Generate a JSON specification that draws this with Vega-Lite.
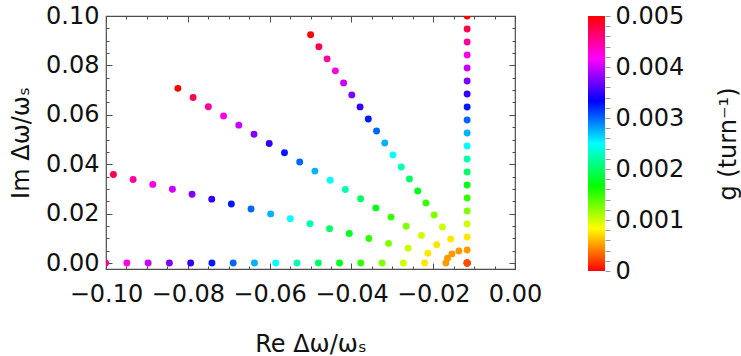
{
  "$schema": "https://vega.github.io/schema/vega-lite/v6.json",
  "background": "white",
  "padding": {"left": 8, "top": 3, "right": 0, "bottom": 0},
  "config": {
    "font": "DejaVu Sans",
    "axis": {"labelFont": "DejaVu Sans", "titleFont": "DejaVu Sans", "labelFontSize": 24, "titleFontSize": 24, "titleFontWeight": "normal", "labelColor": "#111", "titleColor": "#111", "grid": false},
    "view": {"stroke": null}
  },
  "datasets": {
    "pts": [
      {"ray":"E","g":0.00025,"re":-0.0117,"im":0},
      {"ray":"E","g":0.0005,"re":-0.0169,"im":0},
      {"ray":"E","g":0.00075,"re":-0.0221,"im":0},
      {"ray":"E","g":0.001,"re":-0.0273,"im":0},
      {"ray":"E","g":0.00125,"re":-0.0325,"im":0},
      {"ray":"E","g":0.0015,"re":-0.0377,"im":0},
      {"ray":"E","g":0.00175,"re":-0.0429,"im":0},
      {"ray":"E","g":0.002,"re":-0.0481,"im":0},
      {"ray":"E","g":0.00225,"re":-0.0533,"im":0},
      {"ray":"E","g":0.0025,"re":-0.0585,"im":0},
      {"ray":"E","g":0.00275,"re":-0.0637,"im":0},
      {"ray":"E","g":0.003,"re":-0.0689,"im":0},
      {"ray":"E","g":0.00325,"re":-0.0741,"im":0},
      {"ray":"E","g":0.0035,"re":-0.0793,"im":0},
      {"ray":"E","g":0.00375,"re":-0.0845,"im":0},
      {"ray":"E","g":0.004,"re":-0.0897,"im":0},
      {"ray":"E","g":0.00425,"re":-0.0949,"im":0},
      {"ray":"E","g":0.0045,"re":-0.1001,"im":0},
      {"ray":"E","g":0.00475,"re":-0.1053,"im":0},
      {"ray":"E","g":0.005,"re":-0.1105,"im":0},
      {"ray":"D","g":0.00025,"re":-0.0117,"im":0},
      {"ray":"D","g":0.0005,"re":-0.0165,"im":0.00199},
      {"ray":"D","g":0.00075,"re":-0.02131,"im":0.00398},
      {"ray":"D","g":0.001,"re":-0.02611,"im":0.00597},
      {"ray":"D","g":0.00125,"re":-0.03092,"im":0.00796},
      {"ray":"D","g":0.0015,"re":-0.03572,"im":0.00995},
      {"ray":"D","g":0.00175,"re":-0.04052,"im":0.01194},
      {"ray":"D","g":0.002,"re":-0.04533,"im":0.01393},
      {"ray":"D","g":0.00225,"re":-0.05013,"im":0.01592},
      {"ray":"D","g":0.0025,"re":-0.05494,"im":0.01791},
      {"ray":"D","g":0.00275,"re":-0.05974,"im":0.0199},
      {"ray":"D","g":0.003,"re":-0.06454,"im":0.02189},
      {"ray":"D","g":0.00325,"re":-0.06935,"im":0.02388},
      {"ray":"D","g":0.0035,"re":-0.07415,"im":0.02587},
      {"ray":"D","g":0.00375,"re":-0.07896,"im":0.02786},
      {"ray":"D","g":0.004,"re":-0.08376,"im":0.02985},
      {"ray":"D","g":0.00425,"re":-0.08857,"im":0.03184},
      {"ray":"D","g":0.0045,"re":-0.09337,"im":0.03383},
      {"ray":"D","g":0.00475,"re":-0.09818,"im":0.03582},
      {"ray":"D","g":0.005,"re":-0.10298,"im":0.03781},
      {"ray":"C","g":0.00025,"re":-0.0117,"im":0},
      {"ray":"C","g":0.0005,"re":-0.01542,"im":0.00372},
      {"ray":"C","g":0.00075,"re":-0.01914,"im":0.00744},
      {"ray":"C","g":0.001,"re":-0.02287,"im":0.01117},
      {"ray":"C","g":0.00125,"re":-0.02659,"im":0.01489},
      {"ray":"C","g":0.0015,"re":-0.03031,"im":0.01861},
      {"ray":"C","g":0.00175,"re":-0.03403,"im":0.02233},
      {"ray":"C","g":0.002,"re":-0.03775,"im":0.02605},
      {"ray":"C","g":0.00225,"re":-0.04148,"im":0.02978},
      {"ray":"C","g":0.0025,"re":-0.0452,"im":0.0335},
      {"ray":"C","g":0.00275,"re":-0.04892,"im":0.03722},
      {"ray":"C","g":0.003,"re":-0.05264,"im":0.04094},
      {"ray":"C","g":0.00325,"re":-0.05636,"im":0.04466},
      {"ray":"C","g":0.0035,"re":-0.06009,"im":0.04839},
      {"ray":"C","g":0.00375,"re":-0.06381,"im":0.05211},
      {"ray":"C","g":0.004,"re":-0.06753,"im":0.05583},
      {"ray":"C","g":0.00425,"re":-0.07125,"im":0.05955},
      {"ray":"C","g":0.0045,"re":-0.07497,"im":0.06327},
      {"ray":"C","g":0.00475,"re":-0.0787,"im":0.067},
      {"ray":"C","g":0.005,"re":-0.08242,"im":0.07072},
      {"ray":"B","g":0.00025,"re":-0.0117,"im":0},
      {"ray":"B","g":0.0005,"re":-0.01371,"im":0.00486},
      {"ray":"B","g":0.00075,"re":-0.01573,"im":0.00972},
      {"ray":"B","g":0.001,"re":-0.01774,"im":0.01459},
      {"ray":"B","g":0.00125,"re":-0.01976,"im":0.01945},
      {"ray":"B","g":0.0015,"re":-0.02177,"im":0.02431},
      {"ray":"B","g":0.00175,"re":-0.02378,"im":0.02917},
      {"ray":"B","g":0.002,"re":-0.0258,"im":0.03403},
      {"ray":"B","g":0.00225,"re":-0.02781,"im":0.0389},
      {"ray":"B","g":0.0025,"re":-0.02983,"im":0.04376},
      {"ray":"B","g":0.00275,"re":-0.03184,"im":0.04862},
      {"ray":"B","g":0.003,"re":-0.03385,"im":0.05348},
      {"ray":"B","g":0.00325,"re":-0.03587,"im":0.05834},
      {"ray":"B","g":0.0035,"re":-0.03788,"im":0.06321},
      {"ray":"B","g":0.00375,"re":-0.0399,"im":0.06807},
      {"ray":"B","g":0.004,"re":-0.04191,"im":0.07293},
      {"ray":"B","g":0.00425,"re":-0.04392,"im":0.07779},
      {"ray":"B","g":0.0045,"re":-0.04594,"im":0.08265},
      {"ray":"B","g":0.00475,"re":-0.04795,"im":0.08752},
      {"ray":"B","g":0.005,"re":-0.04997,"im":0.09238},
      {"ray":"A","g":0.00025,"re":-0.0117,"im":0},
      {"ray":"A","g":0.0005,"re":-0.0117,"im":0.00526},
      {"ray":"A","g":0.00075,"re":-0.0117,"im":0.01053},
      {"ray":"A","g":0.001,"re":-0.0117,"im":0.01579},
      {"ray":"A","g":0.00125,"re":-0.0117,"im":0.02105},
      {"ray":"A","g":0.0015,"re":-0.0117,"im":0.02632},
      {"ray":"A","g":0.00175,"re":-0.0117,"im":0.03158},
      {"ray":"A","g":0.002,"re":-0.0117,"im":0.03684},
      {"ray":"A","g":0.00225,"re":-0.0117,"im":0.04211},
      {"ray":"A","g":0.0025,"re":-0.0117,"im":0.04737},
      {"ray":"A","g":0.00275,"re":-0.0117,"im":0.05263},
      {"ray":"A","g":0.003,"re":-0.0117,"im":0.05789},
      {"ray":"A","g":0.00325,"re":-0.0117,"im":0.06316},
      {"ray":"A","g":0.0035,"re":-0.0117,"im":0.06842},
      {"ray":"A","g":0.00375,"re":-0.0117,"im":0.07368},
      {"ray":"A","g":0.004,"re":-0.0117,"im":0.07895},
      {"ray":"A","g":0.00425,"re":-0.0117,"im":0.08421},
      {"ray":"A","g":0.0045,"re":-0.0117,"im":0.08947},
      {"ray":"A","g":0.00475,"re":-0.0117,"im":0.09474},
      {"ray":"A","g":0.005,"re":-0.0117,"im":0.1}
    ],
    "bar": [{"g0": 0, "g1": 0.005}]
  },
  "bounds": "flush",
  "spacing": 73,
  "hconcat": [
    {
      "width": 409,
      "height": 253,
      "data": {"name": "pts"},
      "view": {"stroke": "#4d4d4d", "strokeWidth": 1.2},
      "layer": [
        {
          "mark": {"type": "point", "filled": true, "size": 48, "opacity": 1, "clip": true},
          "encoding": {
            "x": {"field": "re", "type": "quantitative", "scale": {"domain": [-0.1, 0], "nice": false, "zero": false},
                  "axis": {"orient": "bottom", "values": [-0.1, -0.08, -0.06, -0.04, -0.02, 0], "format": ".2f", "ticks": false, "domain": false, "labelFlush": false, "labelOverlap": false, "labelPadding": 13, "title": "Re Δω/ωₛ", "titlePadding": 26}},
            "y": {"field": "im", "type": "quantitative", "scale": {"domain": [-0.0024, 0.1], "nice": false, "zero": false},
                  "axis": {"orient": "left", "values": [0, 0.02, 0.04, 0.06, 0.08, 0.1], "format": ".2f", "ticks": false, "domain": false, "labelOverlap": false, "labelPadding": 7, "title": "Im Δω/ωₛ", "titlePadding": 12}},
            "color": {"field": "g", "type": "quantitative", "legend": null,
                      "scale": {"type": "linear", "interpolate": "rgb", "domain": [0, 0.00083333, 0.00166667, 0.0025, 0.00333333, 0.00416667, 0.005], "range": ["#ff0000", "#ffff00", "#00ff00", "#00ffff", "#0000ff", "#ff00ff", "#ff0000"]}}
          }
        },
        {
          "mark": {"type": "point", "opacity": 0},
          "encoding": {
            "x": {"field": "re", "type": "quantitative", "axis": {"orient": "bottom", "values": [-0.1, -0.095, -0.09, -0.085, -0.08, -0.075, -0.07, -0.065, -0.06, -0.055, -0.05, -0.045, -0.04, -0.035, -0.03, -0.025, -0.02, -0.015, -0.01, -0.005, 0], "labels": false, "domain": false, "tickSize": -3, "tickColor": "#4d4d4d", "title": null}},
            "y": {"field": "im", "type": "quantitative", "axis": {"orient": "left", "values": [0, 0.005, 0.01, 0.015, 0.02, 0.025, 0.03, 0.035, 0.04, 0.045, 0.05, 0.055, 0.06, 0.065, 0.07, 0.075, 0.08, 0.085, 0.09, 0.095, 0.1], "labels": false, "domain": false, "tickSize": -3, "tickColor": "#4d4d4d", "title": null}}
          }
        },
        {
          "mark": {"type": "point", "opacity": 0},
          "encoding": {
            "x": {"field": "re", "type": "quantitative", "axis": {"orient": "bottom", "values": [-0.1, -0.08, -0.06, -0.04, -0.02, 0], "labels": false, "domain": false, "tickSize": -6, "tickColor": "#4d4d4d", "title": null}},
            "y": {"field": "im", "type": "quantitative", "axis": {"orient": "left", "values": [0, 0.02, 0.04, 0.06, 0.08, 0.1], "labels": false, "domain": false, "tickSize": -6, "tickColor": "#4d4d4d", "title": null}}
          }
        },
        {
          "mark": {"type": "point", "opacity": 0},
          "encoding": {
            "x": {"field": "re", "type": "quantitative", "axis": {"orient": "top", "values": [-0.1, -0.095, -0.09, -0.085, -0.08, -0.075, -0.07, -0.065, -0.06, -0.055, -0.05, -0.045, -0.04, -0.035, -0.03, -0.025, -0.02, -0.015, -0.01, -0.005, 0], "labels": false, "domain": false, "tickSize": -3, "tickColor": "#4d4d4d", "title": null}},
            "y": {"field": "im", "type": "quantitative", "axis": {"orient": "right", "values": [0, 0.005, 0.01, 0.015, 0.02, 0.025, 0.03, 0.035, 0.04, 0.045, 0.05, 0.055, 0.06, 0.065, 0.07, 0.075, 0.08, 0.085, 0.09, 0.095, 0.1], "labels": false, "domain": false, "tickSize": -3, "tickColor": "#4d4d4d", "title": null}}
          }
        },
        {
          "mark": {"type": "point", "opacity": 0},
          "encoding": {
            "x": {"field": "re", "type": "quantitative", "axis": {"orient": "top", "values": [-0.1, -0.08, -0.06, -0.04, -0.02, 0], "labels": false, "domain": false, "tickSize": -6, "tickColor": "#4d4d4d", "title": null}},
            "y": {"field": "im", "type": "quantitative", "axis": {"orient": "right", "values": [0, 0.02, 0.04, 0.06, 0.08, 0.1], "labels": false, "domain": false, "tickSize": -6, "tickColor": "#4d4d4d", "title": null}}
          }
        }
      ],
      "resolve": {"axis": {"x": "independent", "y": "independent"}}
    },
    {
      "width": 17,
      "height": 255,
      "data": {"name": "bar"},
      "view": {"stroke": null},
      "mark": {"type": "rect", "fill": {"gradient": "linear", "x1": 0, "y1": 1, "x2": 0, "y2": 0, "stops": [
        {"offset": 0, "color": "#ff0000"},
        {"offset": 0.16667, "color": "#ffff00"},
        {"offset": 0.33333, "color": "#00ff00"},
        {"offset": 0.5, "color": "#00ffff"},
        {"offset": 0.66667, "color": "#0000ff"},
        {"offset": 0.83333, "color": "#ff00ff"},
        {"offset": 1, "color": "#ff0000"}
      ]}},
      "encoding": {
        "y": {"field": "g0", "type": "quantitative", "scale": {"domain": [0, 0.005], "nice": false, "zero": false},
              "axis": {"orient": "right", "values": [0, 0.0002, 0.0004, 0.0006, 0.0008, 0.001, 0.0012, 0.0014, 0.0016, 0.0018, 0.002, 0.0022, 0.0024, 0.0026, 0.0028, 0.003, 0.0032, 0.0034, 0.0036, 0.0038, 0.004, 0.0042, 0.0044, 0.0046, 0.0048, 0.005],
                       "labelExpr": "datum.value == 0 ? '0' : (abs(datum.value * 1000 - round(datum.value * 1000)) < 0.000001 ? format(datum.value, '.3f') : '')",
                       "labelOverlap": false, "labelBound": false, "domain": false, "tickSize": 5, "tickColor": "#999999", "labelPadding": 5,
                       "title": "g (turn⁻¹)", "titleAngle": 270, "titleBaseline": "top", "titlePadding": 33}},
        "y2": {"field": "g1"}
      }
    }
  ]
}
